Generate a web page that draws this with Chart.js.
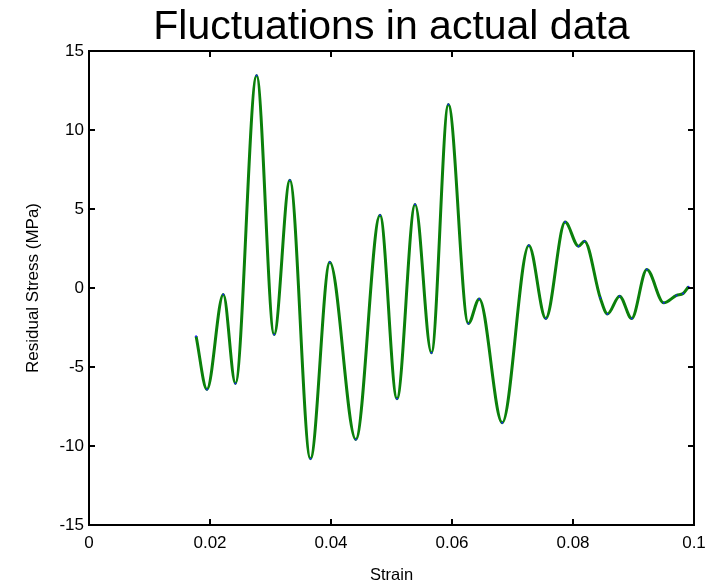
<!DOCTYPE html>
<html>
<head>
<meta charset="utf-8">
<script src="https://cdn.jsdelivr.net/npm/chart.js@4/dist/chart.umd.min.js"></script>
<style>
  html, body { margin: 0; padding: 0; background: #ffffff; }
  #wrap { width: 721px; height: 584px; position: relative; }
</style>
</head>
<body>
<div id="wrap"><canvas id="c" width="721" height="584"></canvas></div>
<script>
// ---- data ----
const strain = [
  0.0177, 0.0195, 0.0222, 0.0242, 0.0277, 0.0306, 0.0332, 0.0366,
  0.0398, 0.0441, 0.0481, 0.0509, 0.0539, 0.0566, 0.0594, 0.0627,
  0.0645, 0.0683, 0.0727, 0.0755, 0.0787, 0.0809, 0.0819, 0.0845,
  0.0857, 0.0877, 0.0897, 0.0922, 0.0950, 0.0971, 0.0982, 0.0991
];
const stress = [
  -3.05, -6.42, -0.41, -6.04, 13.45, -2.94, 6.82, -10.81,
  1.63, -9.59, 4.61, -7.01, 5.28, -4.10, 11.61, -2.25,
  -0.69, -8.53, 2.69, -1.93, 4.17, 2.65, 2.96, -0.62,
  -1.64, -0.52, -1.93, 1.17, -0.94, -0.47, -0.35, 0.08
];
const xTicks = [0, 0.02, 0.04, 0.06, 0.08, 0.1];
const xTickLabels = ['0', '0.02', '0.04', '0.06', '0.08', '0.1'];
const yTicks = [-15, -10, -5, 0, 5, 10, 15];
const yTickLabels = ['-15', '-10', '-5', '0', '5', '10', '15'];
const chartTitle = 'Fluctuations in actual data';
const xTitle = 'Strain';
const yTitle = 'Residual Stress (MPa)';

const FONT = "Arial, 'Liberation Sans', Helvetica, sans-serif";

// centre the title over the plot area (MATLAB style)
const titleCenterPlugin = {
  id: 'titleCenter',
  afterLayout(chart) {
    const tb = chart.titleBlock;
    if (tb) {
      tb.left = chart.chartArea.left;
      tb.right = chart.chartArea.right;
      tb.width = tb.right - tb.left;
    }
  }
};

// frame + inward ticks in MATLAB style
const framePlugin = {
  id: 'frame',
  afterDraw(chart) {
    const { ctx, chartArea: a, scales } = chart;
    ctx.save();
    ctx.strokeStyle = '#000';
    ctx.lineWidth = 2;
    ctx.strokeRect(a.left, a.top, a.right - a.left, a.bottom - a.top);
    const L = 6;
    ctx.beginPath();
    xTicks.forEach(v => {
      const px = Math.round(scales.x.getPixelForValue(v));
      ctx.moveTo(px, a.bottom); ctx.lineTo(px, a.bottom - L);
      ctx.moveTo(px, a.top); ctx.lineTo(px, a.top + L);
    });
    yTicks.forEach(v => {
      const py = Math.round(scales.y.getPixelForValue(v));
      ctx.moveTo(a.left, py); ctx.lineTo(a.left + L, py);
      ctx.moveTo(a.right, py); ctx.lineTo(a.right - L, py);
    });
    ctx.stroke();
    ctx.restore();
  }
};

new Chart(document.getElementById('c'), {
  type: 'line',
  data: {
    datasets: [{
      data: strain.map((x, i) => ({ x: x, y: stress[i] })),
      borderColor: '#0b800b',
      borderWidth: 3,
      cubicInterpolationMode: 'monotone',
      pointRadius: 1,
      pointBorderWidth: 0,
      pointBackgroundColor: '#1a1aff',
      fill: false
    }]
  },
  options: {
    responsive: false,
    animation: false,
    layout: { padding: { left: 0, right: 27, top: 0, bottom: 0 } },
    plugins: {
      legend: { display: false },
      tooltip: { enabled: false },
      title: {
        display: true,
        text: chartTitle,
        color: '#000',
        font: { family: FONT, size: 41, weight: 'normal', lineHeight: 1.0 },
        padding: { top: 7.5, bottom: 2.5 }
      }
    },
    scales: {
      x: {
        type: 'linear',
        min: 0, max: 0.1,
        afterBuildTicks(scale) { scale.ticks = xTicks.map(v => ({ value: v })); },
        afterFit(scale) { scale.height = 59; },
        grid: { display: false, drawTicks: false },
        border: { display: false },
        ticks: {
          color: '#000',
          padding: 8,
          maxRotation: 0,
          autoSkip: false,
          font: { family: FONT, size: 17 },
          callback: (v) => xTickLabels[xTicks.findIndex(t => Math.abs(t - v) < 1e-9)]
        },
        title: {
          display: true,
          text: xTitle,
          color: '#000',
          font: { family: FONT, size: 16.5 },
          padding: { top: 0, bottom: -1.4 }
        }
      },
      y: {
        type: 'linear',
        min: -15, max: 15,
        afterBuildTicks(scale) { scale.ticks = yTicks.map(v => ({ value: v })); },
        afterFit(scale) { scale.width = 89; },
        grid: { display: false, drawTicks: false },
        border: { display: false },
        ticks: {
          color: '#000',
          padding: 5,
          autoSkip: false,
          font: { family: FONT, size: 17 },
          callback: (v) => yTickLabels[yTicks.indexOf(v)]
        },
        title: {
          display: true,
          text: yTitle,
          color: '#000',
          font: { family: FONT, size: 17 },
          padding: { top: 23, bottom: 0 }
        }
      }
    }
  },
  plugins: [titleCenterPlugin, framePlugin]
});
</script>
</body>
</html>
